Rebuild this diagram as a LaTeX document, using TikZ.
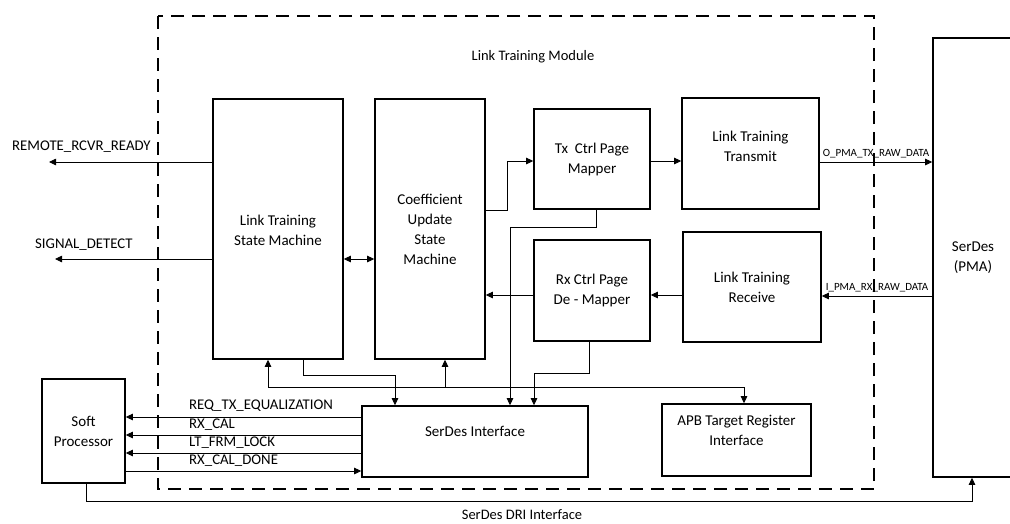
\documentclass[tikz,border=0pt]{standalone}
\usepackage{fontspec}
\setmainfont{Carlito}
\usetikzlibrary{arrows.meta}

\begin{document}
\begin{tikzpicture}[x=1pt,y=-1pt,
  blk/.style={draw,line width=1.6pt,rectangle,inner sep=0pt,align=center,
    font=\fontsize{15}{20}\selectfont},
  wire/.style={line width=0.8pt},
  tip/.style={-{Triangle[length=7pt,width=6.5pt]}},
  bitip/.style={{Triangle[length=7pt,width=6.5pt]}-{Triangle[length=7pt,width=6.5pt]}},
  sig/.style={inner sep=0pt,font=\fontsize{14.8}{16}\selectfont},
  small/.style={inner sep=0pt,font=\fontsize{11}{13}\selectfont},
  module/.style={draw,line width=1.6pt,dash pattern=on 13pt off 8pt},
]
\useasboundingbox (0,0) rectangle (1010,523);

% Link training module boundary
\draw[module] (158,16) rectangle (874,489);
\node[inner sep=0pt,font=\fontsize{14.5}{16}\selectfont] (ltm) at (533,57) {Link Training Module};

% Blocks
\node[blk,minimum width=130pt,minimum height=260pt] (ltsm) at (278,229)
  {\mbox{}\\[-6pt]Link Training\\State Machine};
\node[blk,minimum width=110pt,minimum height=260pt] (cusm) at (430,229)
  {Coefficient\\Update\\State\\Machine};
\node[blk,minimum width=116pt,minimum height=100pt] (txm) at (592,159)
  {Tx~ Ctrl Page\\Mapper};
\node[blk,minimum width=137pt,minimum height=111pt] (ltt) at (750.5,153.5)
  {Link Training\\Transmit\\[-6pt]\mbox{}};
\node[blk,minimum width=116pt,minimum height=101pt] (rxm) at (592,290.5)
  {Rx Ctrl Page\\De - Mapper};
\node[blk,minimum width=138pt,minimum height=110pt] (ltr) at (752,287)
  {Link Training\\Receive};
\node[blk,minimum width=226pt,minimum height=71pt] (sdi) at (475,441.5)
  {SerDes Interface\\\mbox{}};
\node[blk,minimum width=149pt,minimum height=72pt] (apb) at (736.5,440)
  {APB Target Register\\Interface\\\mbox{}};
\node[blk,minimum width=83pt,minimum height=104pt] (sp) at (83.5,431)
  {Soft\\Processor};
\node[blk,minimum width=80pt,minimum height=439pt] (pma) at (973,257.5)
  {SerDes\\(PMA)};

% Outputs of the state machine
\coordinate (rrr) at (49,162);
\coordinate (sd) at (55,259);
\draw[wire,tip] (ltsm.west |- rrr) -- (rrr);
\draw[wire,tip] (ltsm.west |- sd) -- (sd);
\node[sig,anchor=west] (rrrl) at (12,147) {REMOTE\_RCVR\_READY};
\node[sig,anchor=west] (sdl) at (35,245) {SIGNAL\_DETECT};

\draw[wire,bitip] (ltsm.east |- sd) -- (cusm.west |- sd);

% Transmit path
\draw[wire,tip] (cusm.east |- 0,210) -- (507,210) |- (txm.west |- 0,161);
\draw[wire,tip] (txm.east |- 0,161) -- (ltt.west |- 0,161);
\draw[wire,tip] (ltt.east |- 0,162) -- (pma.west |- 0,162)
  node[small,midway,above=4pt] (otx) {O\_PMA\_TX\_RAW\_DATA};

% Receive path
\draw[wire,tip] (pma.west |- 0,296) -- (ltr.east |- 0,296)
  node[small,midway,above=4pt] (irx) {I\_PMA\_RX\_RAW\_DATA};
\draw[wire,tip] (ltr.west |- 0,295) -- (rxm.east |- 0,295);
\draw[wire,tip] (rxm.west |- 0,295) -- (cusm.east |- 0,295);

% Connections into the SerDes interface
\draw[wire,tip] (txm.south -| 596,0) -- (596,227) -| (sdi.north -| 510,0);
\draw[wire,tip] (rxm.south -| 589,0) -- (589,373) -| (sdi.north -| 534,0);
\draw[wire,tip] (ltsm.south -| 303,0) -- (303,375) -| (sdi.north -| 395,0);

% Register bus
\coordinate (busl) at (268,387);
\coordinate (busr) at (744,387);
\draw[wire] (busl) -- (busr);
\draw[wire,tip] (busl) -- (ltsm.south -| busl);
\draw[wire,tip] (445,387) -- (cusm.south -| 445,0);
\draw[wire,tip] (busr) -- (apb.north -| busr);

% Soft processor signals
\draw[wire,tip] (sdi.west |- 0,417) -- (sp.east |- 0,417);
\draw[wire,tip] (sdi.west |- 0,435) -- (sp.east |- 0,435);
\draw[wire,tip] (sdi.west |- 0,453) -- (sp.east |- 0,453);
\draw[wire,tip] (sp.east |- 0,471) -- (sdi.west |- 0,471);
\node[sig,anchor=west] (req) at (189,406) {REQ\_TX\_EQUALIZATION};
\node[sig,anchor=west] (rxc) at (189,425) {RX\_CAL};
\node[sig,anchor=west] (lck) at (189,443) {LT\_FRM\_LOCK};
\node[sig,anchor=west] (rxd) at (189,461) {RX\_CAL\_DONE};

% DRI interface
\draw[wire,tip] (sp.south -| 86,0) -- (86,501) -| (pma.south -| 972,0);
\node[sig,font=\fontsize{14.5}{16}\selectfont] (dri) at (522,515) {SerDes DRI Interface};

\end{tikzpicture}
\end{document}
